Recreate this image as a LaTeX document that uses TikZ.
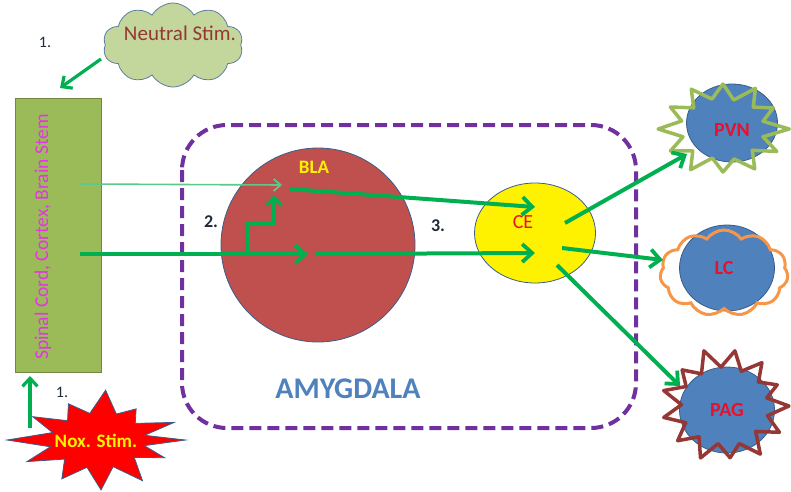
\documentclass[tikz,border=0pt]{standalone}
\usepackage{fontspec}
\setmainfont{Carlito}
\usetikzlibrary{shapes.symbols,shapes.geometric,arrows.meta}
\definecolor{grn}{HTML}{00B050}
\definecolor{thingrn}{HTML}{5CC98A}
\definecolor{purp}{HTML}{7030A0}
\definecolor{steel}{HTML}{4F81BD}
\definecolor{edgeblue}{HTML}{385D8A}
\definecolor{olive}{HTML}{9BBB59}
\definecolor{olivedark}{HTML}{71893F}
\definecolor{lightolive}{HTML}{C3D69B}
\definecolor{brick}{HTML}{C0504D}
\definecolor{darkred}{HTML}{953735}
\definecolor{orng}{HTML}{F79646}
\definecolor{lblred}{HTML}{E8112D}
\definecolor{magent}{HTML}{E633E6}
\definecolor{numcol}{HTML}{1F2A3A}
\tikzset{
  garrow/.style={draw=grn, line width=4pt, -{Straight Barb[length=10pt,width=18pt,line width=3.8pt]}},
  marrow/.style={draw=grn, line width=3.2pt, -{Straight Barb[length=8pt,width=15pt,line width=3.2pt]}},
  tarrow/.style={draw=thingrn, line width=1.6pt, -{Straight Barb[length=7pt,width=12pt,line width=1.8pt]}},
  nucleus/.style={ellipse, draw=edgeblue, line width=0.8pt, fill=steel, inner sep=0pt},
  lbl/.style={font=\fontsize{20}{22}\selectfont\bfseries, text=lblred},
  num/.style={font=\fontsize{16}{18}\selectfont, text=numcol},
}
\begin{document}
\begin{tikzpicture}[x=1pt,y=-1pt]
\useasboundingbox (0,0) rectangle (791,491);

% amygdala box
\draw[purp, line width=4pt, dash pattern=on 12pt off 6pt, rounded corners=45pt]
  (182,125) rectangle (636,428);
\node[font=\fontsize{30}{32}\selectfont\bfseries, text=steel] (amy) at (348,389) {AMYGDALA};

% source column
\node[draw=olivedark, line width=0.8pt, fill=olive, minimum width=86pt, minimum height=274pt, inner sep=0pt] (src) at (58,235) {};
\node[rotate=90, font=\fontsize{19.5}{22}\selectfont, text=magent] (srclbl) at (43,237) {Spinal Cord, Cortex, Brain Stem};

% neutral stimulus cloud
\node[cloud, cloud puffs=10, cloud puff arc=120, aspect=1.7, draw=edgeblue!80, line width=0.8pt, fill=lightolive,
      minimum width=140pt, minimum height=84pt, inner sep=0pt] (ns) at (173,45) {};
\node[font=\fontsize{21}{23}\selectfont, text=darkred] (nslbl) at (180,33) {Neutral Stim.};
\node[num] (n1a) at (45,42) {1.};

% noxious stimulus burst
\coordinate (noxc) at (98,440);
\draw[fill=red, draw=edgeblue, line width=0.8pt, shift={(noxc)}, xscale=1.75]
  (0:50) \foreach \a/\r in {12/27, 25/42, 40/27, 58/48, 72/28, 88/50, 103/28, 118/44, 135/27, 152/46, 166/28, 180/52, 196/27, 212/44, 228/26, 245/40, 260/27, 275/50, 292/28, 305/38, 322/27, 338/47, 350/27} { -- (\a:\r) } -- cycle;
\node[font=\fontsize{19}{21}\selectfont\bfseries, text=yellow] (nox) at (96,441) {Nox. Stim.};
\node[num] (n1b) at (62,392) {1.};

% BLA and CE
\node[nucleus, fill=brick, minimum width=194pt, minimum height=194pt] (bla) at (318,245) {};
\node[font=\fontsize{19}{21}\selectfont\bfseries, text=yellow] (blalbl) at (314,167) {BLA};
\node[nucleus, fill=yellow, minimum width=121pt, minimum height=100pt] (ce) at (535,233) {};
\node[font=\fontsize{20}{22}\selectfont, text=lblred] (celbl) at (523,222) {CE};
\node[font=\fontsize{18}{20}\selectfont\bfseries, text=numcol] (n2) at (211,222) {2.};
\node[font=\fontsize{18}{20}\selectfont\bfseries, text=numcol] (n3) at (438,226) {3.};

% PVN
\node[nucleus, minimum width=91pt, minimum height=78pt] (pvn) at (732,123) {};
\draw[olive, line width=3.5pt, line join=round, shift={(723,129)}, xscale=1.38]
  (0:48) \foreach \a/\r in {15/30, 30/45, 45/30, 60/46, 75/31, 90/43, 105/30, 120/47, 135/31, 150/44, 165/30, 180/47, 195/31, 210/44, 225/30, 240/46, 255/31, 270/45, 285/30, 300/47, 315/31, 330/42, 345/30} { -- (\a:\r) } -- cycle;
\node[lbl] (pvnlbl) at (732,130) {PVN};

% LC
\node[nucleus, minimum width=95pt, minimum height=86pt] (lc) at (727,268) {};
\node[cloud, cloud puffs=11, cloud puff arc=110, aspect=1.45, draw=orng, line width=3pt,
      minimum width=128pt, minimum height=86pt, inner sep=0pt] (lccloud) at (724,273) {};
\node[lbl] (lclbl) at (724,268) {LC};

% PAG
\node[nucleus, minimum width=95pt, minimum height=86pt] (pag) at (727,410) {};
\draw[darkred, line width=3.5pt, line join=round, shift={(724,406)}, xscale=1.12]
  (0:58) \foreach \a/\r in {14/40, 28/56, 42/38, 56/58, 70/40, 84/52, 98/38, 112/56, 126/38, 140/54, 154/38, 168/55, 182/38, 196/56, 210/39, 224/52, 238/38, 252/58, 266/39, 280/56, 294/38, 308/55, 322/39, 336/52, 348/39} { -- (\a:\r) } -- cycle;
\node[lbl] (paglbl) at (727,410) {PAG};

% connectors
\coordinate (nsout) at (101,59);
\coordinate (srctop) at (60,88);
\draw[marrow] (nsout) -- (srctop);
\coordinate (noxtop) at (30,428);
\coordinate (srcbot) at (30,376);
\draw[marrow] (noxtop) -- (srcbot);

\coordinate (a1s) at (80,184);
\coordinate (a1e) at (282,185);
\draw[tarrow] (a1s) -- (a1e);
\coordinate (a2s) at (80,254);
\coordinate (a2e) at (308,254);
\draw[garrow] (a2s) -- (a2e);
\coordinate (st1) at (247,254);
\coordinate (st2) at (274,224);
\coordinate (st3) at (274,195);
\draw[marrow] (st1) |- (st2) -- (st3);

\coordinate (b1s) at (290,189);
\coordinate (b1e) at (535,207);
\draw[garrow] (b1s) -- (b1e);
\coordinate (b2s) at (315,254);
\coordinate (b2e) at (535,253);
\draw[garrow] (b2s) -- (b2e);

\coordinate (c1s) at (565,223);
\coordinate (c1e) at (687,154);
\draw[garrow] (c1s) -- (c1e);
\coordinate (c2s) at (562,248);
\coordinate (c2e) at (663,260);
\draw[garrow] (c2s) -- (c2e);
\coordinate (c3s) at (557,265);
\coordinate (c3e) at (680,386);
\draw[garrow] (c3s) -- (c3e);
\end{tikzpicture}
\end{document}
